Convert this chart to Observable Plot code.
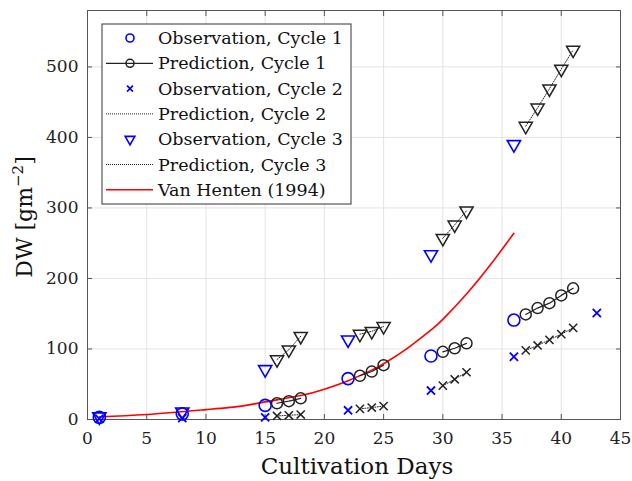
<!DOCTYPE html>
<html>
<head>
<meta charset="utf-8">
<script src="https://cdn.jsdelivr.net/npm/d3@7"></script>
<script src="https://cdn.jsdelivr.net/npm/@observablehq/plot@0.6"></script>
<style>
  html, body { margin: 0; padding: 0; background: #fff; }
  #chart { width: 632px; height: 481px; }
</style>
</head>
<body>
<div id="chart"></div>
<script>
// ---- data ----
const xTicks = [0, 5, 10, 15, 20, 25, 30, 35, 40, 45];
const yTicks = [0, 100, 200, 300, 400, 500];

const obsDays = [1, 8, 15, 22, 29, 36];
const obsC1 = [3, 8, 20, 58, 90, 141];
const obsC2Days = [1, 8, 15, 22, 29, 36, 43];
const obsC2 = [1, 2, 3, 13, 41, 89, 151];
const obsC3 = [4, 11, 71, 113, 234, 390];

const predDays = [[16, 17, 18], [23, 24, 25], [30, 31, 32], [37, 38, 39, 40, 41]];
const predC1 = [[23, 26, 30], [62, 68, 77], [96, 101, 108], [149, 158, 165, 176, 186]];
const predC2 = [[5, 6, 7], [15, 17, 19], [48, 57, 67], [98, 105, 113, 121, 130]];
const predC3 = [[85, 99, 118], [121, 125, 132], [257, 276, 296], [416, 442, 469, 497, 524]];

const vhDays = [1, 5, 10, 13, 15, 18, 20, 22, 24, 25, 27, 29, 30, 32, 34, 36];
const vhDW   = [4, 7, 14, 19, 25, 34, 43, 55, 70, 79, 101, 127, 142, 178, 219, 264];

const legendLabels = [
  "Observation, Cycle 1", "Prediction, Cycle 1",
  "Observation, Cycle 2", "Prediction, Cycle 2",
  "Observation, Cycle 3", "Prediction, Cycle 3",
  "Van Henten (1994)"
];

// ---- tables ----
const obs1 = obsDays.map((d, i) => ({day: d, dw: obsC1[i]}));
const obs2 = obsC2Days.map((d, i) => ({day: d, dw: obsC2[i]}));
const obs3 = obsDays.map((d, i) => ({day: d, dw: obsC3[i]}));
function predTable(vals) {
  const out = [];
  predDays.forEach((days, g) => days.forEach((d, i) => out.push({day: d, dw: vals[g][i], g})));
  return out;
}
const pred1 = predTable(predC1), pred2 = predTable(predC2), pred3 = predTable(predC3);
const vh = vhDays.map((d, i) => ({day: d, dw: vhDW[i]}));

const BLUE = "#0000ff";
const FONT = "'DejaVu Serif', 'Liberation Serif', serif";

const chart = Plot.plot({
  width: 632,
  height: 481,
  marginLeft: 87,
  marginRight: 12,
  marginTop: 10,
  marginBottom: 62,
  style: {fontFamily: FONT, fontSize: "17px", background: "#fff", color: "#222"},
  x: {domain: [0, 45], label: null},
  y: {domain: [0, 580], label: null},
  marks: [
    Plot.gridX(xTicks, {stroke: "#e3e3e3", strokeOpacity: 1}),
    Plot.gridY(yTicks, {stroke: "#e3e3e3", strokeOpacity: 1}),
    Plot.axisX({ticks: xTicks, anchor: "bottom", tickSize: -5, tickPadding: 17, stroke: "#555", fontSize: 17}),
    Plot.axisX({ticks: xTicks, anchor: "top", tickSize: -5, tickFormat: () => "", stroke: "#555"}),
    Plot.axisY({ticks: yTicks, anchor: "left", tickSize: -5, tickPadding: 14, stroke: "#555", fontSize: 17}),
    Plot.axisY({ticks: yTicks, anchor: "right", tickSize: -5, tickFormat: () => "", stroke: "#555"}),
    Plot.frame({stroke: "#555", strokeWidth: 1}),
    // Van Henten curve
    Plot.line(vh, {x: "day", y: "dw", stroke: "red", strokeWidth: 1.6, curve: "natural"}),
    // observations
    Plot.dot(obs1, {x: "day", y: "dw", symbol: "circle", r: 6, stroke: BLUE, strokeWidth: 1.6}),
    Plot.dot(obs2, {x: "day", y: "dw", symbol: "times", r: 3.8, stroke: BLUE, strokeWidth: 1.8}),
    Plot.dot(obs3, {x: "day", y: "dw", symbol: "triangle", rotate: 180, r: 4.9, stroke: BLUE, strokeWidth: 1.6}),
    // predictions cycle 1
    Plot.line(pred1, {x: "day", y: "dw", z: "g", stroke: "#222", strokeWidth: 1.2}),
    Plot.dot(pred1, {x: "day", y: "dw", symbol: "circle", r: 5.5, stroke: "#222", strokeWidth: 1.5}),
    // predictions cycle 2
    Plot.line(pred2, {x: "day", y: "dw", z: "g", stroke: "#222", strokeWidth: 1, strokeDasharray: "1,1.5"}),
    Plot.dot(pred2, {x: "day", y: "dw", symbol: "times", r: 3.8, stroke: "#222", strokeWidth: 1.5}),
    // predictions cycle 3
    Plot.line(pred3, {x: "day", y: "dw", z: "g", stroke: "#222", strokeWidth: 1, strokeDasharray: "1,1.5"}),
    Plot.dot(pred3, {x: "day", y: "dw", symbol: "triangle", rotate: 180, r: 4.9, stroke: "#222", strokeWidth: 1.5})
  ]
});

document.getElementById("chart").appendChild(chart);

// ---- axis titles ----
const svg = d3.select(chart);
svg.append("text")
  .attr("x", 357).attr("y", 474)
  .attr("text-anchor", "middle")
  .attr("font-family", FONT).attr("font-size", 23).attr("fill", "#111")
  .text("Cultivation Days");

const yl = svg.append("text")
  .attr("transform", "translate(32,217) rotate(-90)")
  .attr("text-anchor", "middle")
  .attr("font-family", FONT).attr("font-size", 22).attr("fill", "#111");
yl.append("tspan").text("DW [gm");
yl.append("tspan").attr("font-size", 15).attr("dy", -9).text("−2");
yl.append("tspan").attr("dy", 9).text("]");

// ---- legend ----
const lg = svg.append("g").attr("text-anchor", "start");
const lx = 102, ly = 24, lw = 249, lh = 180;
lg.append("rect").attr("x", lx).attr("y", ly).attr("width", lw).attr("height", lh)
  .attr("fill", "#fff").attr("stroke", "#333").attr("stroke-width", 1);
const rowY = i => ly + 14 + i * 25.3;
const sym = (type, r) => d3.symbol(type, Math.PI * r * r)();
legendLabels.forEach((label, i) => {
  const y = rowY(i);
  const g = lg.append("g");
  const cx = 130;
  if (i === 1) {
    g.append("line").attr("x1", 106).attr("x2", 153).attr("y1", y).attr("y2", y).attr("stroke", "#222").attr("stroke-width", 1.2);
    g.append("circle").attr("cx", cx).attr("cy", y).attr("r", 4).attr("fill", "none").attr("stroke", "#222").attr("stroke-width", 1.5);
  } else if (i === 3 || i === 5) {
    g.append("line").attr("x1", 106).attr("x2", 153).attr("y1", y).attr("y2", y).attr("stroke", "#222").attr("stroke-width", 1).attr("stroke-dasharray", "1,1");
  } else if (i === 6) {
    g.append("line").attr("x1", 106).attr("x2", 153).attr("y1", y).attr("y2", y).attr("stroke", "red").attr("stroke-width", 1.6);
  } else if (i === 0) {
    g.append("circle").attr("cx", cx).attr("cy", y).attr("r", 4).attr("fill", "none").attr("stroke", BLUE).attr("stroke-width", 1.6);
  } else if (i === 2) {
    g.append("path").attr("d", sym(d3.symbolTimes, 2.8)).attr("transform", `translate(${cx},${y})`).attr("fill", "none").attr("stroke", BLUE).attr("stroke-width", 1.6);
  } else if (i === 4) {
    g.append("path").attr("d", sym(d3.symbolTriangle, 3.6)).attr("transform", `translate(${cx},${y}) rotate(180)`).attr("fill", "none").attr("stroke", BLUE).attr("stroke-width", 1.6);
  }
  g.append("text").attr("x", 158).attr("y", y).attr("dy", "0.35em").attr("text-anchor", "start")
    .attr("font-family", FONT).attr("font-size", 17.5).attr("fill", "#111").text(label);
});
</script>
</body>
</html>
